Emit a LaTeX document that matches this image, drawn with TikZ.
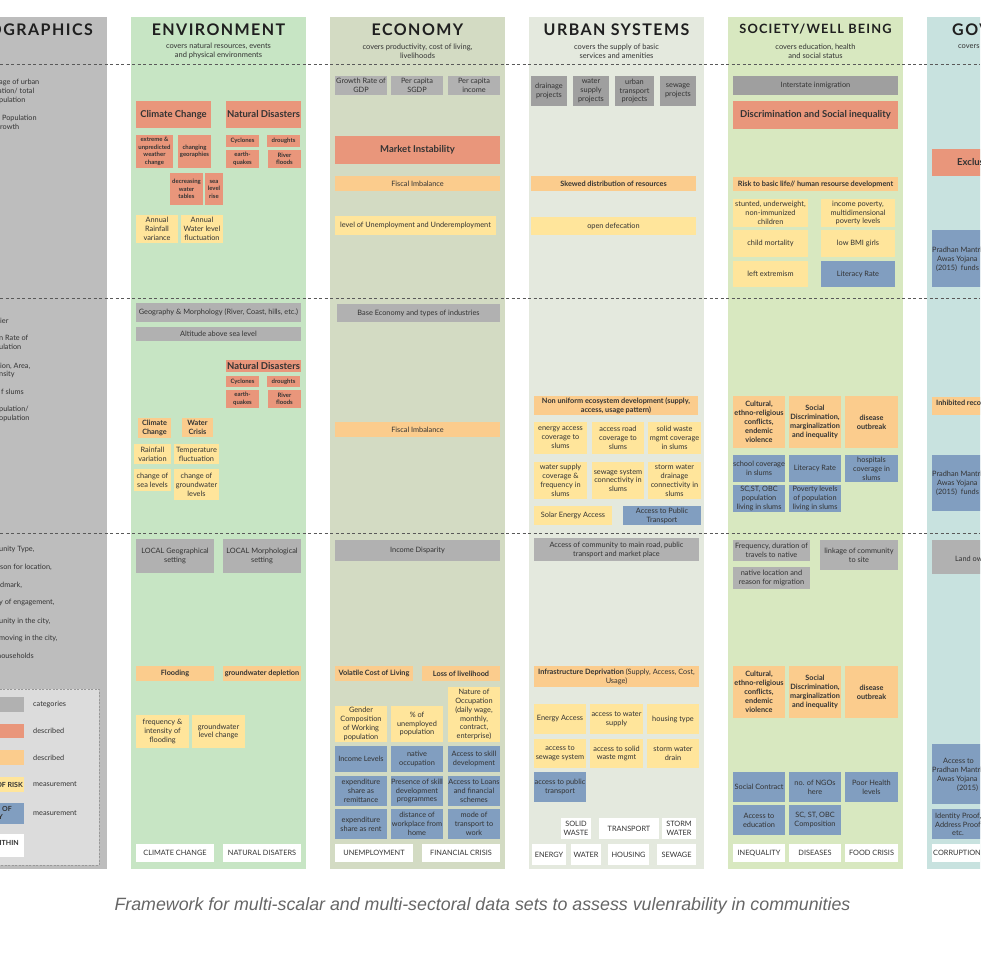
\documentclass[tikz,border=0pt]{standalone}
\usepackage{fontspec}
\setmainfont{Lato}
\newfontfamily\titlefont{Lato}[LetterSpace=9]
\newfontfamily\capfont{Liberation Sans}
\definecolor{demo}{HTML}{BDBDBD}
\definecolor{env}{HTML}{C7E5C4}
\definecolor{eco}{HTML}{D3DBC3}
\definecolor{urb}{HTML}{E4E9DE}
\definecolor{soc}{HTML}{D8E8C0}
\definecolor{gov}{HTML}{C8E2DF}
\definecolor{sal}{HTML}{E9967B}
\definecolor{org}{HTML}{FBCC8D}
\definecolor{yel}{HTML}{FFE59B}
\definecolor{blu}{HTML}{819EC0}
\definecolor{catg}{HTML}{B1B1B1}
\definecolor{catd}{HTML}{9F9F9F}
\definecolor{lgd}{HTML}{DCDCDC}
\definecolor{txt}{HTML}{333333}
\definecolor{capc}{HTML}{666666}
\newcommand\bx[7]{\node[#2,minimum width={(#5-#3)*1pt},minimum height={(#6-#4)*1pt}] (#1) at ({(#3+#5)/2},{(#4+#6)/2}) {#7};}
\tikzset{
 bb/.style={rectangle, inner sep=0pt, align=center, text=txt, font=\fontsize{7.35}{8.9}\selectfont},
 cat/.style={bb, fill=catg},
 catdk/.style={bb, fill=catd},
 salb/.style={bb, fill=sal, font=\bfseries\fontsize{9.5}{11}\selectfont},
 sals/.style={bb, fill=sal, font=\bfseries\fontsize{6}{7.5}\selectfont},
 orgb/.style={bb, fill=org, font=\bfseries\fontsize{7.3}{8.9}\selectfont},
 orgr/.style={bb, fill=org},
 yelb/.style={bb, fill=yel},
 blub/.style={bb, fill=blu},
 wht/.style={bb, fill=white},
 lt/.style={anchor=west, inner sep=0, text=txt, font=\fontsize{7.3}{8.8}\selectfont},
 gt/.style={anchor=west, inner sep=0, text=txt, font=\fontsize{7.35}{8.9}\selectfont},
 ttl/.style={inner sep=0, text=black!88, font=\titlefont\bfseries\fontsize{16}{18}\selectfont},
 sub/.style={inner sep=0, align=center, text=txt, font=\fontsize{7.5}{9}\selectfont},
 dsh/.style={draw=black!65, line width=0.7pt, dash pattern=on 3pt off 2.5pt},
}
\begin{document}
\begin{tikzpicture}[x=1pt,y=-1pt]
\useasboundingbox (0,0) rectangle (980,980);
\clip (0,0) rectangle (980,980);
\fill[white] (0,0) rectangle (980,980);
% panels
\fill[demo] (-5,17) rectangle (107,869);
\fill[env] (131,17) rectangle (306,869);
\fill[eco] (330,17) rectangle (505,869);
\fill[urb] (529,17) rectangle (704,869);
\fill[soc] (728,17) rectangle (903,869);
\fill[gov] (927,17) rectangle (990,869);
% dashed separators
\draw[dsh] (0,64) -- (980,64);
\draw[dsh] (0,298) -- (980,298);
\draw[dsh] (0,533) -- (980,533);
% titles
\node[ttl, anchor=base east] (t0) at (93,35) {DEMOGRAPHICS};
\node[ttl, anchor=base] (t1) at (218.5,35) {ENVIRONMENT};
\node[ttl, anchor=base] (t2) at (417.5,35) {ECONOMY};
\node[ttl, anchor=base] (t3) at (616.5,35) {URBAN SYSTEMS};
\node[ttl, anchor=base, font=\titlefont\bfseries\fontsize{12.8}{15}\selectfont] (t4) at (815.5,33.5) {SOCIETY/WELL BEING};
\node[ttl, anchor=base west] (t5) at (952,35) {GOVERNANCE};
\node[sub] (s1) at (218.5,51) {covers natural resources, events\\and physical environments};
\node[sub] (s2) at (417.5,51) {covers productivity, cost of living,\\livelihoods};
\node[sub] (s3) at (616.5,51) {covers the supply of basic\\services and amenities};
\node[sub] (s4) at (815.5,51) {covers education, health\\and social status};
\node[sub, anchor=west] (s5) at (958,46.5) {covers};
% demographics text
\node[lt] (d1) at (-1,82) {age of urban};
\node[lt] (d2) at (-2,91) {ation/ total};
\node[lt] (d3) at (-1,100) {pulation};
\node[lt] (d4) at (0,118) {\ Population};
\node[lt] (d5) at (0,127) {rowth};
\node[lt] (d6) at (0,321) {ier};
\node[lt] (d7) at (-1,338) {n Rate of};
\node[lt] (d8) at (-1,347) {ulation};
\node[lt] (d9) at (0,366) {ion, Area,};
\node[lt] (d10) at (-1,374) {nsity};
\node[lt] (d11) at (1,392) {f slums};
\node[lt] (d12) at (-1,409) {pulation/};
\node[lt] (d13) at (-1,418) {opulation};
\node[lt] (d14) at (-1,549) {unity Type,};
\node[lt] (d15) at (0,567) {son for location,};
\node[lt] (d16) at (0,585) {dmark,};
\node[lt] (d17) at (-1,603) {y of engagement,};
\node[lt] (d18) at (-1,621) {unity in the city,};
\node[lt] (d19) at (-1,638) {moving in the city,};
\node[lt] (d20) at (-3,656) {households};
% legend
\draw[fill=lgd, draw=black!40, line width=0.6pt, dash pattern=on 2pt off 1.5pt] (-5,689) rectangle (99,865);
\fill[catg] (-5,697) rectangle (24,712);
\fill[sal] (-5,724) rectangle (24,738);
\fill[org] (-5,750) rectangle (24,765);
\fill[yel] (-5,777) rectangle (24,792);
\fill[blu] (-5,803) rectangle (24,824);
\fill[white] (-5,834) rectangle (24,857);
\node[inner sep=0, anchor=east, text=txt, font=\bfseries\fontsize{7}{8}\selectfont] (lg1) at (23,784.5) {OF RISK};
\node[inner sep=0, anchor=east, text=txt, font=\bfseries\fontsize{7}{8}\selectfont] (lg2) at (12,809) {OF};
\node[inner sep=0, anchor=east, text=txt, font=\bfseries\fontsize{7}{8}\selectfont] (lg3) at (3,817) {Y};
\node[inner sep=0, anchor=east, text=txt, font=\bfseries\fontsize{7}{8}\selectfont] (lg4) at (19,843) {WITHIN};
\node[lt] (lg5) at (33,704) {categories};
\node[lt] (lg6) at (33,731) {described};
\node[lt] (lg7) at (33,758) {described};
\node[lt] (lg8) at (33,784.5) {measurement};
\node[lt] (lg9) at (33,813) {measurement};
% ENVIRONMENT
\bx{en1}{salb}{136}{101}{211}{128}{Climate Change}
\bx{en2}{salb}{226}{101}{301}{128}{Natural Disasters}
\bx{en3}{sals}{136}{135}{173}{168}{extreme \&\\unpredicted\\weather\\change}
\bx{en4}{sals}{178}{135}{211}{168}{changing\\georaphies}
\bx{en5}{sals}{226}{135}{259}{147}{Cyclones}
\bx{en6}{sals}{267}{135}{300}{147}{droughts}
\bx{en7}{sals}{226}{150}{259}{168}{earth-\\quakes}
\bx{en8}{sals}{268}{150}{301}{168}{River\\floods}
\bx{en9}{sals}{170}{173}{203}{205}{decreasing\\water\\tables}
\bx{en10}{sals}{205}{173}{223}{205}{sea\\level\\rise}
\bx{en11}{yelb}{136}{215}{178}{243}{Annual\\Rainfall\\variance}
\bx{en12}{yelb}{181}{215}{223}{243}{Annual\\Water level\\fluctuation}
\bx{en13}{cat}{136}{303}{301}{322}{Geography \& Morphology (River, Coast, hills, etc.)}
\bx{en14}{cat}{136}{327}{301}{341}{Altitude above sea level}
\bx{en15}{salb}{226}{360}{301}{372}{Natural Disasters}
\bx{en16}{sals}{226}{376}{259}{387}{Cyclones}
\bx{en17}{sals}{267}{376}{300}{387}{droughts}
\bx{en18}{sals}{226}{390}{259}{408}{earth-\\quakes}
\bx{en19}{sals}{268}{390}{301}{408}{River\\floods}
\bx{en20}{orgb}{138}{418}{171}{438}{Climate\\Change}
\bx{en21}{orgb}{182}{418}{213}{437}{Water\\Crisis}
\bx{en22}{yelb}{134}{444}{171}{464}{Rainfall\\variation}
\bx{en23}{yelb}{174}{444}{219}{464}{Temperature\\fluctuation}
\bx{en24}{yelb}{134}{469}{171}{491}{change of\\sea levels}
\bx{en25}{yelb}{174}{469}{219}{500}{change of\\groundwater\\levels}
\bx{en26}{cat}{136}{539}{214}{573}{LOCAL Geographical\\setting}
\bx{en27}{cat}{223}{539}{301}{573}{LOCAL Morphological\\setting}
\bx{en28}{orgb}{136}{666}{214}{681}{Flooding}
\bx{en29}{orgb}{223}{666}{301}{681}{groundwater depletion}
\bx{en30}{yelb}{136}{715}{189}{748}{frequency \&\\intensity of\\flooding}
\bx{en31}{yelb}{192}{715}{245}{748}{groundwater\\level change}
\bx{en32}{wht}{136}{844}{214}{862}{CLIMATE CHANGE}
\bx{en33}{wht}{223}{844}{301}{862}{NATURAL DISATERS}
% ECONOMY
\bx{ec1}{cat}{335}{76}{387}{95}{Growth Rate of\\GDP}
\bx{ec2}{cat}{391}{76}{443}{95}{Per capita\\SGDP}
\bx{ec3}{cat}{448}{76}{500}{95}{Per capita\\income}
\bx{ec4}{salb}{335}{136}{500}{164}{Market Instability}
\bx{ec5}{orgr}{335}{176}{500}{191}{Fiscal Imbalance}
\bx{ec6}{yelb}{335}{216}{496}{235}{level of Unemployment and Underemployment}
\bx{ec7}{cat}{337}{304}{500}{322}{Base Economy and types of industries}
\bx{ec8}{orgr}{335}{422}{500}{437}{Fiscal Imbalance}
\bx{ec9}{cat}{335}{540}{500}{561}{Income Disparity}
\bx{ec10}{orgb}{335}{666}{413}{681}{Volatile Cost of Living}
\bx{ec11}{orgb}{422}{666}{500}{681}{Loss of livelihood}
\bx{ec12}{yelb}{335}{706}{387}{742}{Gender\\Composition\\of Working\\population}
\bx{ec13}{yelb}{391}{706}{443}{742}{\% of\\unemployed\\population}
\bx{ec14}{yelb}{448}{687}{500}{742}{Nature of\\Occupation\\(daily wage,\\monthly,\\contract,\\enterprise)}
\bx{ec15}{blub}{335}{746}{387}{772}{Income Levels}
\bx{ec16}{blub}{391}{746}{443}{772}{native\\occupation}
\bx{ec17}{blub}{448}{746}{500}{772}{Access to skill\\development}
\bx{ec18}{blub}{335}{776}{387}{806}{expenditure\\share as\\remittance}
\bx{ec19}{blub}{391}{776}{443}{806}{Presence of skill\\development\\programmes}
\bx{ec20}{blub}{448}{776}{500}{806}{Access to Loans\\and financial\\schemes}
\bx{ec21}{blub}{335}{809}{387}{839}{expenditure\\share as rent}
\bx{ec22}{blub}{391}{809}{443}{839}{distance of\\workplace from\\home}
\bx{ec23}{blub}{448}{809}{500}{839}{mode of\\transport to\\work}
\bx{ec24}{wht}{335}{844}{413}{862}{UNEMPLOYMENT}
\bx{ec25}{wht}{422}{844}{500}{862}{FINANCIAL CRISIS}
% URBAN SYSTEMS
\bx{ur1}{catdk}{531}{76}{567}{106}{drainage\\projects}
\bx{ur2}{catdk}{573}{76}{609}{106}{water\\supply\\projects}
\bx{ur3}{catdk}{615}{76}{654}{106}{urban\\transport\\projects}
\bx{ur4}{catdk}{660}{76}{696}{106}{sewage\\projects}
\bx{ur5}{orgb}{531}{176}{696}{191}{Skewed distribution of resources}
\bx{ur6}{yelb}{531}{217}{696}{235}{open defecation}
\bx{ur7}{orgb}{534}{396}{698}{415}{Non uniform ecosystem development (supply,\\access, usage pattern)}
\bx{ur8}{yelb}{534}{422}{587}{454}{energy access\\coverage to\\slums}
\bx{ur9}{yelb}{592}{422}{644}{454}{access road\\coverage to\\slums}
\bx{ur10}{yelb}{648}{422}{701}{454}{solid waste\\mgmt coverage\\in slums}
\bx{ur11}{yelb}{534}{462}{587}{499}{water supply\\coverage \&\\frequency in\\slums}
\bx{ur12}{yelb}{592}{462}{644}{499}{sewage system\\connectivity in\\slums}
\bx{ur13}{yelb}{648}{462}{701}{499}{storm water\\drainage\\connectivity in\\slums}
\bx{ur14}{yelb}{534}{506}{612}{525}{Solar Energy Access}
\bx{ur15}{blub}{623}{506}{701}{525}{Access to Public\\Transport}
\bx{ur16}{cat}{534}{538}{699}{561}{Access of community to main road, public\\transport and market place}
\bx{ur17}{orgr}{534}{666}{699}{687}{\textbf{Infrastructure Deprivation} (Supply, Access, Cost,\\Usage)}
\bx{ur18}{yelb}{534}{704}{586}{734}{Energy Access}
\bx{ur19}{yelb}{590}{704}{643}{734}{access to water\\supply}
\bx{ur20}{yelb}{647}{704}{699}{734}{housing type}
\bx{ur21}{yelb}{534}{739}{586}{768}{access to\\sewage system}
\bx{ur22}{yelb}{590}{739}{643}{768}{access to solid\\waste mgmt}
\bx{ur23}{yelb}{647}{739}{699}{768}{storm water\\drain}
\bx{ur24}{blub}{534}{772}{586}{802}{access to public\\transport}
\bx{ur25}{wht}{561}{818}{591}{839}{SOLID\\WASTE}
\bx{ur26}{wht}{599}{818}{659}{839}{TRANSPORT}
\bx{ur27}{wht}{662}{818}{696}{839}{STORM\\WATER}
\bx{ur28}{wht}{532}{844}{566}{865}{ENERGY}
\bx{ur29}{wht}{571}{844}{601}{865}{WATER}
\bx{ur30}{wht}{608}{844}{649}{865}{HOUSING}
\bx{ur31}{wht}{657}{844}{696}{865}{SEWAGE}
% SOCIETY
\bx{so1}{catdk}{733}{76}{898}{95}{Interstate inmigration}
\bx{so2}{salb}{733}{101}{898}{129}{Discrimination and Social inequality}
\bx{so3}{orgb}{733}{177}{898}{191}{Risk to basic life// human resourse development}
\bx{so4}{yelb}{733}{199}{808}{227}{stunted, underweight,\\non-immunized\\children}
\bx{so5}{yelb}{821}{199}{895}{227}{income poverty,\\multidimensional\\poverty levels}
\bx{so6}{yelb}{733}{230}{808}{257}{child mortality}
\bx{so7}{yelb}{821}{230}{895}{257}{low BMI girls}
\bx{so8}{yelb}{733}{261}{808}{287}{left extremism}
\bx{so9}{blub}{821}{261}{895}{287}{Literacy Rate}
\bx{so10}{orgb}{733}{396}{785}{448}{Cultural,\\ethno-religious\\conflicts,\\endemic\\violence}
\bx{so11}{orgb}{789}{396}{841}{448}{Social\\Discrimination,\\marginalization\\and inequality}
\bx{so12}{orgb}{845}{396}{898}{448}{disease\\outbreak}
\bx{so13}{blub}{733}{455}{785}{482}{school coverage\\in slums}
\bx{so14}{blub}{789}{455}{841}{482}{Literacy Rate}
\bx{so15}{blub}{845}{455}{898}{482}{hospitals\\coverage in\\slums}
\bx{so16}{blub}{733}{485}{785}{512}{SC,ST, OBC\\population\\living in slums}
\bx{so17}{blub}{789}{485}{841}{512}{Poverty levels\\of population\\living in slums}
\bx{so18}{cat}{733}{540}{810}{561}{Frequency, duration of\\travels to native}
\bx{so19}{cat}{820}{540}{898}{570}{linkage of community\\to site}
\bx{so20}{cat}{733}{567}{810}{589}{native location and\\reason for migration}
\bx{so21}{orgb}{733}{666}{785}{718}{Cultural,\\ethno-religious\\conflicts,\\endemic\\violence}
\bx{so22}{orgb}{789}{666}{841}{718}{Social\\Discrimination,\\marginalization\\and inequality}
\bx{so23}{orgb}{845}{666}{898}{718}{disease\\outbreak}
\bx{so24}{blub}{733}{772}{785}{802}{Social Contract}
\bx{so25}{blub}{789}{772}{841}{802}{no. of NGOs\\here}
\bx{so26}{blub}{845}{772}{898}{802}{Poor Health\\levels}
\bx{so27}{blub}{733}{805}{785}{835}{Access to\\education}
\bx{so28}{blub}{789}{805}{841}{835}{SC, ST, OBC\\Composition}
\bx{so29}{wht}{733}{844}{785}{862}{INEQUALITY}
\bx{so30}{wht}{789}{844}{841}{862}{DISEASES}
\bx{so31}{wht}{845}{844}{898}{862}{FOOD CRISIS}
% GOVERNANCE (cut at the right edge)
\fill[sal] (932,149) rectangle (990,176);
\node[gt, font=\bfseries\fontsize{9.5}{11}\selectfont] (gv1) at (957,162.5) {Exclusion};
\fill[blu] (932,230) rectangle (990,287);
\node[gt] (gv2) at (932,250) {Pradhan Mantri};
\node[gt] (gv3) at (937,259) {Awas Yojana};
\node[gt] (gv4) at (936,268) {(2015)\ \ funds};
\fill[org] (932,397) rectangle (990,415);
\node[gt, font=\bfseries\fontsize{7.3}{8.9}\selectfont] (gv5) at (936,403) {Inhibited recovery};
\fill[blu] (932,455) rectangle (990,511);
\node[gt] (gv6) at (932,474) {Pradhan Mantri};
\node[gt] (gv7) at (937,483) {Awas Yojana};
\node[gt] (gv8) at (936,492) {(2015)\ \ funds};
\fill[catg] (932,540) rectangle (990,574);
\node[gt] (gv9) at (955,559) {Land ownership};
\fill[blu] (932,744) rectangle (990,804);
\node[gt] (gv10) at (943,761) {Access to};
\node[gt] (gv11) at (932,770) {Pradhan Mantri};
\node[gt] (gv12) at (937,779) {Awas Yojana};
\node[gt] (gv13) at (957,788) {(2015)};
\fill[blu] (932,809) rectangle (990,839);
\node[gt] (gv14) at (935,816) {Identity Proof,};
\node[gt] (gv15) at (935,824.5) {Address Proof};
\node[gt] (gv16) at (952,833) {etc.};
\fill[white] (932,844) rectangle (990,862);
\node[gt] (gv17) at (933,853) {CORRUPTION};
% caption
\node[inner sep=0, text=capc, font=\capfont\itshape\fontsize{17.8}{20}\selectfont] (cap) at (482.5,906) {Framework for multi-scalar and multi-sectoral data sets to assess vulenrability in communities};
\end{tikzpicture}
\end{document}
